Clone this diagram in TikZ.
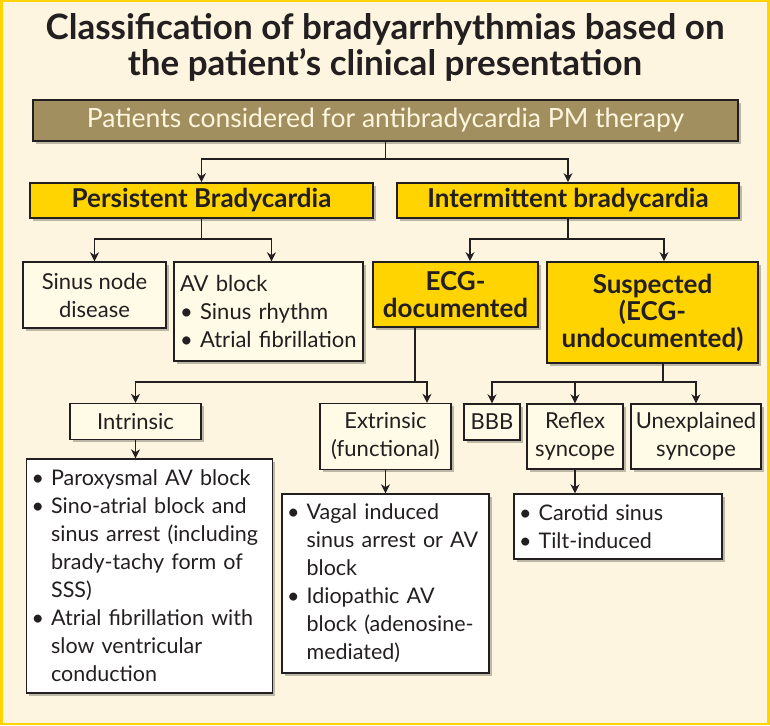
\documentclass[tikz,border=0pt]{standalone}
\usepackage{fontspec}
\setmainfont{Lato}
\usetikzlibrary{arrows.meta,positioning,calc,shadows}
\definecolor{ink}{HTML}{231F20}
\definecolor{paper}{HTML}{FDF5DF}
\definecolor{gold}{HTML}{FFD400}
\definecolor{khaki}{HTML}{A28F60}
\definecolor{ivory}{HTML}{FFFBE6}
\definecolor{crm}{HTML}{FFF6DE}
\tikzset{
  box/.style={rectangle,draw=ink,line width=1.4pt,inner sep=0pt,text=ink,align=center,
    drop shadow={shadow xshift=2.5pt,shadow yshift=-2.5pt,opacity=.25,fill=black}},
  hdrbox/.style={box,fill=khaki,line width=2.2pt,text=crm,font=\fontsize{26.5}{30}\selectfont},
  catbox/.style={box,fill=gold,line width=1.8pt,font=\bfseries\fontsize{26}{27}\selectfont},
  subbox/.style={box,fill=ivory,font=\fontsize{22}{28}\selectfont},
  listbox/.style={box,fill=white,align=left,inner xsep=5pt,font=\fontsize{21.5}{28}\selectfont},
  link/.style={draw=ink,line width=1.4pt},
  arr/.style={link,-{Stealth[length=9pt,width=9pt]}},
}
\newcommand{\bul}{\textbullet\ }
\newcommand{\ind}{\hphantom{\textbullet\ }}

\begin{document}
\begin{tikzpicture}[x=1pt,y=-1pt]
  \useasboundingbox (0,0) rectangle (770,725);
  \fill[gold] (0,0) rectangle (770,725);
  \fill[paper] (3,2) rectangle (767,723);

  \node[font=\bfseries\fontsize{35}{36}\selectfont,text=ink,align=center] (title) at (385,47)
    {Classification of bradyarrhythmias based on\\the patient’s clinical presentation};

  \node[hdrbox,minimum width=705pt,minimum height=41pt] (pat) at (385.5,120.5)
    {Patients considered for antibradycardia PM therapy};

  % first split
  \node[catbox,minimum width=343pt,minimum height=35pt] (pers) at (201.5,200.5) {Persistent Bradycardia};
  \node[catbox,minimum width=342pt,minimum height=35pt] (inter) at (568,200.5) {Intermittent bradycardia};

  \node[subbox,minimum width=143pt,minimum height=66pt] (snd) at (94.5,295) {Sinus node\\disease};
  \node[subbox,align=left,text width=177pt,inner xsep=6pt,minimum height=99pt] (avb) at (268.5,311.5)
    {AV block\\\bul Sinus rhythm\\\bul Atrial fibrillation};
  \node[catbox,minimum width=165pt,minimum height=65pt] (ecgd) at (455.5,294.5) {ECG-\\documented};
  \node[catbox,minimum width=211pt,minimum height=101pt] (susp) at (652.5,312.5) {Suspected\\(ECG-\\undocumented)};

  % third row
  \node[subbox,minimum width=131pt,minimum height=36pt] (intr) at (135.5,421.5) {Intrinsic};
  \node[subbox,minimum width=131pt,minimum height=66pt] (extr) at (385.5,436.5) {Extrinsic\\(functional)};
  \node[subbox,minimum width=56pt,minimum height=36pt] (bbb) at (492,422) {BBB};
  \node[subbox,minimum width=96pt,minimum height=65pt] (refl) at (575,436.5) {Reflex\\syncope};
  \node[subbox,minimum width=130pt,minimum height=65pt] (unex) at (696,436.5) {Unexplained\\syncope};

  \node[listbox,text width=236pt,minimum height=234pt] (intrd) at (149.5,576)
    {\bul Paroxysmal AV block\\\bul Sino-atrial block and\\\ind sinus arrest (including\\\ind brady-tachy form of\\\ind SSS)\\\bul Atrial fibrillation with\\\ind slow ventricular\\\ind conduction};
  \node[listbox,text width=197pt,minimum height=179pt] (extrd) at (385.5,583.5)
    {\bul Vagal induced\\\ind \mbox{sinus arrest or AV}\\\ind block\\\bul Idiopathic AV\\\ind block (adenosine-\\\ind mediated)};
  \node[listbox,text width=198pt,minimum height=65pt] (carot) at (618,526.5)
    {\bul Carotid sinus\\\bul Tilt-induced};

  \draw[link] (pat.south) -- ++(0,17) coordinate (j1);
  \draw[arr] (j1) -| (pers.north);
  \draw[arr] (j1) -| (inter.north);
  \draw[link] (pers.south) -- ++(0,20) coordinate (j2);
  \draw[arr] (j2) -| (snd.north);
  \draw[arr] (j2) -| ([xshift=3pt]avb.north);
  \draw[link] (inter.south) -- ++(0,20) coordinate (j3);
  \draw[arr] (j3) -| ([xshift=14.5pt]ecgd.north);
  \draw[arr] (j3) -| ([xshift=11.5pt]susp.north);
  \draw[link] ([xshift=-40.5pt]ecgd.south) -- ++(0,54) coordinate (j4);
  \draw[arr] (j4) -| (intr.north);
  \draw[arr] (j4) -| ([xshift=41.5pt]extr.north);
  \draw[link] ([xshift=10.5pt]susp.south) -- ++(0,18) coordinate (j5);
  \draw[arr] (j5) -| (bbb.north);
  \draw[arr] (j5) -| (refl.north);
  \draw[arr] (j5) -| (unex.north);
  \draw[arr] (intr.south) -- (intr.south |- intrd.north);
  \draw[arr] (extr.south) -- (extrd.north);
  \draw[arr] (refl.south) -- (refl.south |- carot.north);
\end{tikzpicture}
\end{document}
